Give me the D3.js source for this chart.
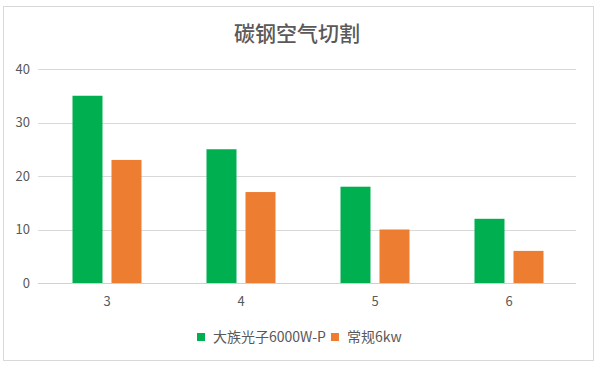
<!DOCTYPE html>
<html><head><meta charset="utf-8">
<script src="https://cdn.jsdelivr.net/npm/d3@7"></script>
<style>body{margin:0;background:#fff;}svg{display:block;}</style>
</head><body>
<svg id="c" width="600" height="368"></svg>
<script>
const title = "碳钢空气切割";
const categories = ["3", "4", "5", "6"];
const seriesNames = ["大族光子6000W-P", "常规6kw"];
const seriesA = [35, 25, 18, 12];
const seriesB = [23, 17, 10, 6];
const yTicks = [0, 10, 20, 30, 40];
const colors = ["#00b050", "#ed7d31"];

(function () {
const svg = d3.select("#c");
const font = "'Noto Sans CJK SC', 'Noto Sans', sans-serif";
const textCol = "#595959";

svg.append("rect").attr("x", 3.5).attr("y", 6.5).attr("width", 590).attr("height", 354)
  .attr("fill", "#fff").attr("stroke", "#d9d9d9").attr("stroke-width", 1);

svg.append("text").attr("x", 297).attr("y", 41).attr("text-anchor", "middle")
  .attr("font-family", font).attr("font-size", 21).attr("font-weight", 500).attr("fill", textCol).text(title);

const pl = 40, pr = 576, pt = 69, pb = 283;
const y = d3.scaleLinear().domain([0, 40]).range([pb, pt]);
const x0 = d3.scaleBand().domain(categories).range([pl, pr]).paddingInner(0).paddingOuter(0);
const x1 = d3.scaleBand().domain(seriesNames).range([0, x0.bandwidth()]).paddingInner(0.231).paddingOuter(0.833);

svg.append("g").selectAll("line").data(yTicks.filter(t => t > 0)).join("line")
  .attr("x1", pl - 2).attr("x2", pr).attr("y1", d => Math.round(y(d)) + 0.5).attr("y2", d => Math.round(y(d)) + 0.5)
  .attr("stroke", "#d9d9d9").attr("stroke-width", 1);

svg.append("g").selectAll("text").data(yTicks).join("text")
  .attr("x", 30).attr("y", d => y(d)).attr("dy", "0.36em").attr("text-anchor", "end")
  .attr("font-family", font).attr("font-size", 13).attr("fill", textCol).text(d => d);

const data = categories.map((c, i) => ({c, vals: [seriesA[i], seriesB[i]]}));
const groups = svg.append("g").selectAll("g").data(data).join("g")
  .attr("transform", d => `translate(${x0(d.c)},0)`);
groups.selectAll("rect").data(d => d.vals.map((v, j) => ({v, s: seriesNames[j], j}))).join("rect")
  .attr("x", d => x1(d.s)).attr("width", x1.bandwidth())
  .attr("y", d => y(d.v)).attr("height", d => y(0) - y(d.v))
  .attr("fill", d => colors[d.j]);

svg.append("line").attr("x1", pl - 2).attr("x2", pr).attr("y1", Math.round(y(0)) + 0.5).attr("y2", Math.round(y(0)) + 0.5)
  .attr("stroke", "#d0d0d0").attr("stroke-width", 1);

svg.append("g").selectAll("text").data(categories).join("text")
  .attr("x", d => x0(d) + x0.bandwidth() / 2).attr("y", 306).attr("text-anchor", "middle")
  .attr("font-family", font).attr("font-size", 13).attr("fill", textCol).text(d => d);

const lg = svg.append("g");
let lx = 197;
seriesNames.forEach((n, i) => {
  lg.append("rect").attr("x", lx).attr("y", 333).attr("width", 8).attr("height", 8).attr("fill", colors[i]);
  const t = lg.append("text").attr("x", lx + 16).attr("y", 337).attr("dy", "0.36em")
    .attr("font-family", font).attr("font-size", 14).attr("fill", textCol).text(n);
  lx += 16 + t.node().getComputedTextLength() + 5;
});
})();
</script>
</body></html>
